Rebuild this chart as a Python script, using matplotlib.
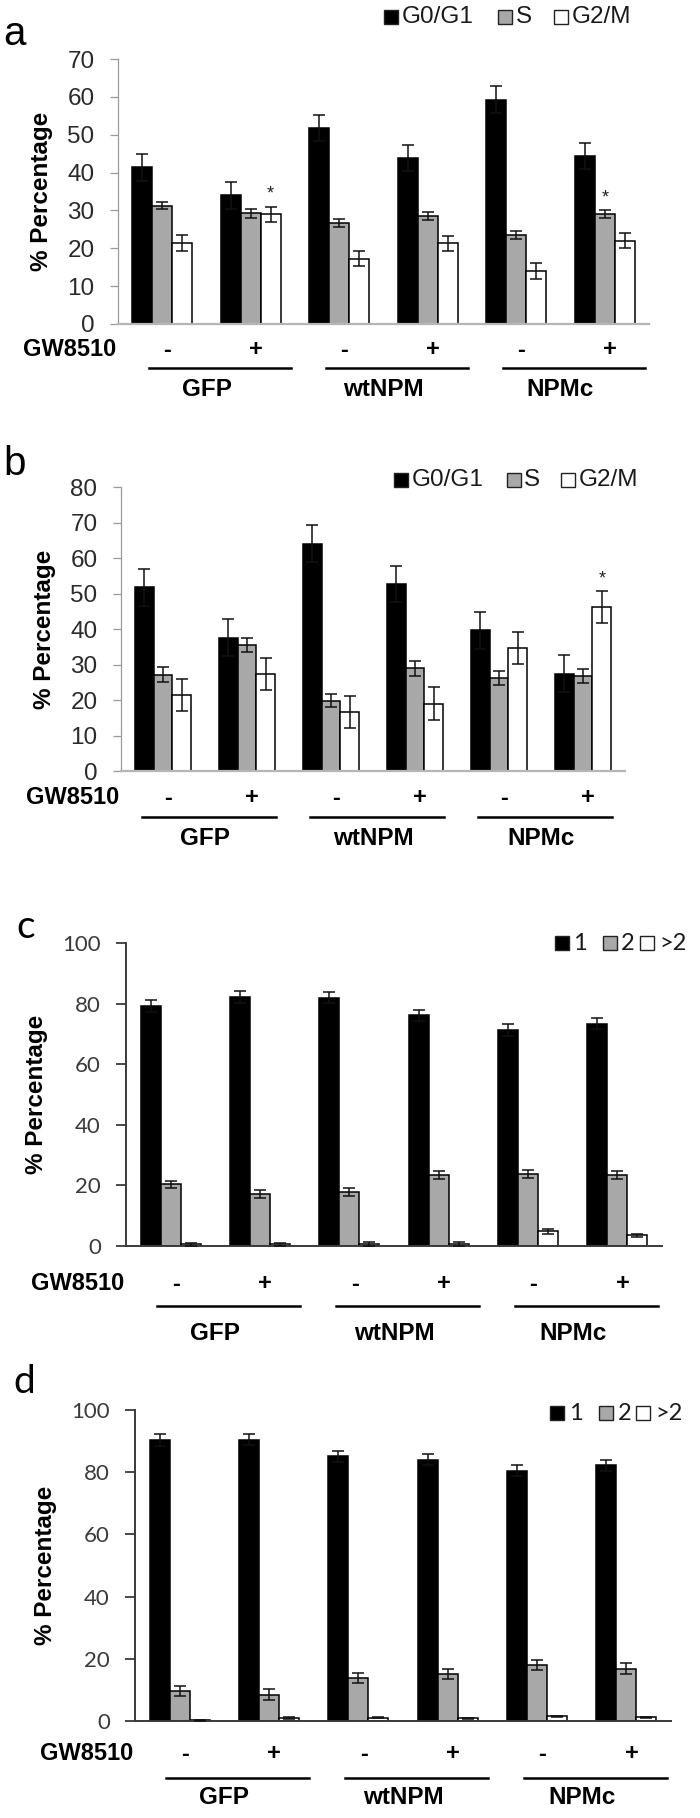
import numpy as np
import matplotlib
matplotlib.use('Agg')
import matplotlib.pyplot as plt
import matplotlib.transforms as mtransforms
from matplotlib.patches import Rectangle

# ---- data ----
conditions = ['GFP -', 'GFP +', 'wtNPM -', 'wtNPM +', 'NPMc -', 'NPMc +']
treatment = ['-', '+', '-', '+', '-', '+']
groups = ['GFP', 'wtNPM', 'NPMc']

cycle_labels = ['G0/G1', 'S', 'G2/M']
nuclei_labels = ['1', '2', '>2']

# panel a: cell cycle
g01_a = [41.4, 34.0, 51.7, 43.8, 59.3, 44.4]
g01_a_err = [3.6, 3.5, 3.4, 3.5, 3.5, 3.5]
s_a = [31.3, 29.2, 26.7, 28.5, 23.5, 29.0]
s_a_err = [1.0, 1.1, 1.0, 1.0, 1.0, 1.0]
g2m_a = [21.4, 29.0, 17.2, 21.3, 13.9, 22.0]
g2m_a_err = [2.0, 2.0, 2.0, 2.0, 2.1, 2.0]

# panel b: cell cycle
g01_b = [51.8, 37.5, 64.0, 52.6, 39.6, 27.4]
g01_b_err = [5.2, 5.2, 5.2, 5.1, 5.2, 5.2]
s_b = [27.1, 35.4, 19.8, 28.9, 26.2, 26.8]
s_b_err = [2.1, 2.0, 1.9, 2.0, 2.0, 1.9]
g2m_b = [21.4, 27.4, 16.7, 19.0, 34.6, 46.2]
g2m_b_err = [4.5, 4.5, 4.5, 4.6, 4.5, 4.6]

# panel c: nuclei count
one_c = [79.2, 82.1, 81.9, 76.2, 71.3, 73.4]
one_c_err = [1.9, 1.9, 1.8, 1.8, 1.9, 1.9]
two_c = [20.4, 17.1, 17.7, 23.3, 23.8, 23.3]
two_c_err = [1.2, 1.3, 1.3, 1.3, 1.4, 1.3]
gt2_c = [0.5, 0.5, 0.7, 0.7, 4.9, 3.5]
gt2_c_err = [0.6, 0.6, 0.6, 0.6, 0.8, 0.6]

# panel d: nuclei count
one_d = [90.3, 90.5, 85.1, 84.0, 80.5, 82.2]
one_d_err = [1.9, 1.9, 1.8, 1.7, 1.7, 1.8]
two_d = [9.7, 8.5, 13.9, 15.2, 18.1, 16.8]
two_d_err = [1.6, 1.7, 1.6, 1.6, 1.6, 1.7]
gt2_d = [0.2, 0.9, 1.1, 0.9, 1.5, 1.2]
gt2_d_err = [0.1, 0.3, 0.2, 0.2, 0.2, 0.2]

# significance stars: (panel, condition index, series index)
stars = [('a', 1, 2), ('a', 5, 1), ('b', 5, 2)]

W, H = 700, 1818
fig = plt.figure(figsize=(W / 100, H / 100), dpi=100)
fills = ['black', '#a8a8a8', 'white']
ARIAL = ['Liberation Sans', 'DejaVu Sans']
CALI = ['Lato', 'DejaVu Sans']


def fx(x):
    return x / W


def fy(y):
    return 1 - y / H


def panel(name, series, errs, legend, ymax, ystep, box, style):
    # box = (left px, right px, top px of ymax, bottom px of 0)
    l, r, t, b = box
    ax = fig.add_axes([fx(l), fy(b), (r - l) / W, (b - t) / H])
    x = np.arange(len(conditions))
    w = 0.225
    for k in range(3):
        ax.bar(x + (k - 1) * w, series[k], w, color=fills[k],
               edgecolor='black', linewidth=1.1, zorder=2)
        ax.errorbar(x + (k - 1) * w, series[k], yerr=errs[k], fmt='none',
                    ecolor='#111111', elinewidth=1.1, capsize=4,
                    capthick=1.1, zorder=3)
    for pn, ci, si in stars:
        if pn == name:
            ax.text(ci + (si - 1) * w, series[si][ci] + errs[si][ci] + 1.0, '*',
                    ha='center', va='bottom', fontsize=13, color='#222222',
                    family=ARIAL)
    ax.set_xlim(-0.5, 5.5)
    ax.set_ylim(0, ymax)
    ax.set_yticks(np.arange(0, ymax + 1, ystep))
    ax.set_xticks([])
    for s in ['top', 'right']:
        ax.spines[s].set_visible(False)
    if style == 'excel':
        spc = '#9a9a9a'
        ax.spines['left'].set_color(spc)
        ax.spines['left'].set_linewidth(0.9)
        ax.spines['bottom'].set_color('#b5b5b5')
        ax.spines['bottom'].set_linewidth(1.6)
        ax.tick_params(axis='y', direction='out', length=6, width=0.9,
                       color=spc, pad=11, labelsize=17.5, labelcolor='#2a2a2a')
        tfam = ARIAL
        lfam = ARIAL
        lsize = 17.5
    else:
        spc = '#3a3a3a'
        ax.spines['left'].set_color(spc)
        ax.spines['left'].set_linewidth(1.4)
        ax.spines['bottom'].set_color(spc)
        ax.spines['bottom'].set_linewidth(1.4)
        ax.tick_params(axis='y', direction='out', length=7, width=1.3,
                       color=spc, pad=11, labelsize=16, labelcolor='#3a3a3a')
        tfam = CALI
        lfam = CALI
        lsize = 16
    for lab in ax.get_yticklabels():
        lab.set_family(tfam)
    ax.set_ylabel('% Percentage', fontsize=17.5, fontweight='bold',
                  family=ARIAL, labelpad=10)
    return ax, lfam, lsize


def annotate(ax, gw_y, line_y, lab_y, shift=0.0):
    blend = mtransforms.blended_transform_factory(ax.transData, fig.transFigure)
    pos = ax.get_position()
    fig.text(pos.x0 - fx(2), fy(gw_y), 'GW8510', ha='right', va='center',
             fontsize=17, fontweight='bold', family=ARIAL)
    for i, t in enumerate(treatment):
        ax.text(i + 0.06, fy(gw_y), t, transform=blend, ha='center',
                va='center', fontsize=17, fontweight='bold', family=ARIAL,
                clip_on=False)
    for g, lab in enumerate(groups):
        ax.plot([2 * g - 0.15 + shift, 2 * g + 1.45 + shift], [fy(line_y)] * 2,
                transform=blend, color='black', lw=1.8, clip_on=False)
        ax.text(2 * g + 0.5, fy(lab_y), lab, transform=blend, ha='center',
                va='center', fontsize=17.5, fontweight='bold', family=ARIAL,
                clip_on=False)


def legend(labels, sq_x, txt_x, y, fam, size):
    for sx, tx, lab, c in zip(sq_x, txt_x, labels, fills):
        fig.patches.append(Rectangle((fx(sx), fy(y + 7)), 14 / W, 14 / H,
                                     transform=fig.transFigure,
                                     facecolor=c, edgecolor='#222222', lw=1.0))
        fig.text(fx(tx), fy(y), lab, ha='left', va='center', fontsize=size,
                 family=fam, color='#1a1a1a')


# ---- panel a ----
ax, lf, ls = panel('a', [g01_a, s_a, g2m_a], [g01_a_err, s_a_err, g2m_a_err],
                   cycle_labels, 70, 10, (118, 649, 59, 324), 'excel')
annotate(ax, 350, 368, 389)
legend(cycle_labels, [384, 498, 554], [402, 516, 572], 17, lf, ls)
fig.text(fx(3), fy(45), 'a', fontsize=29, family=ARIAL, va='baseline')

# ---- panel b ----
ax, lf, ls = panel('b', [g01_b, s_b, g2m_b], [g01_b_err, s_b_err, g2m_b_err],
                   cycle_labels, 80, 10, (121, 625, 487, 771), 'excel')
annotate(ax, 798, 817, 838, shift=-0.1)
legend(cycle_labels, [394, 507, 561], [412, 524, 579], 480, lf, ls)
fig.text(fx(3), fy(475), 'b', fontsize=29, family=ARIAL, va='baseline')

# ---- panel c ----
ax, lf, ls = panel('c', [one_c, two_c, gt2_c], [one_c_err, two_c_err, gt2_c_err],
                   nuclei_labels, 100, 20, (126, 662, 943, 1246), 'office')
annotate(ax, 1284, 1306, 1333)
legend(nuclei_labels, [555, 603, 640], [573, 621, 659], 943, lf, 17)
fig.text(fx(16), fy(938), 'c', fontsize=28, family=CALI, va='baseline')

# ---- panel d ----
ax, lf, ls = panel('d', [one_d, two_d, gt2_d], [one_d_err, two_d_err, gt2_d_err],
                   nuclei_labels, 100, 20, (135, 671, 1410, 1721), 'office')
annotate(ax, 1754, 1778, 1798)
legend(nuclei_labels, [550, 599, 636], [569, 618, 655], 1413, lf, 17)
fig.text(fx(13), fy(1393), 'd', fontsize=28, family=CALI, va='baseline')

fig.savefig('out.png', dpi=100, facecolor='white')
